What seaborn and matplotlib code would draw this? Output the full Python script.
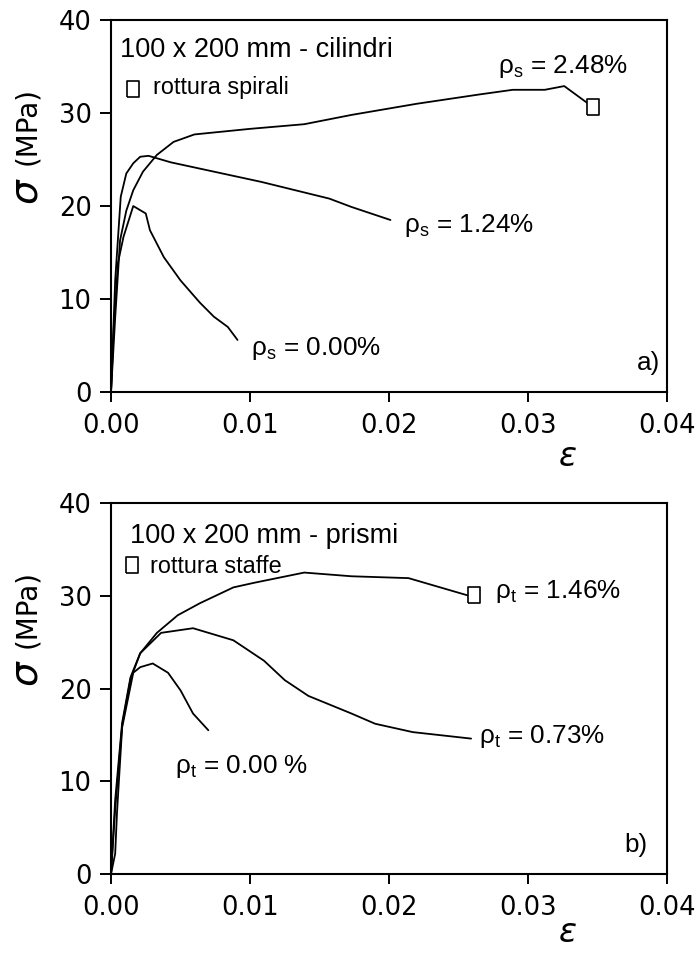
import numpy as np
import matplotlib
matplotlib.use('Agg')
import matplotlib.pyplot as plt
import pandas as pd
import seaborn as sns

# panel a) cylinders 100 x 200 mm, spiral ratio rho_s
eps_s248 = [0, 0.0003, 0.00065, 0.0011, 0.0016, 0.0023, 0.0033, 0.0045, 0.0060, 0.0100, 0.0139, 0.0173, 0.0220, 0.0265, 0.0289, 0.0312, 0.0326, 0.0347]
sig_s248 = [0, 8.0, 16.3, 19.5, 21.7, 23.7, 25.5, 26.9, 27.7, 28.3, 28.8, 29.8, 31.0, 32.0, 32.5, 32.5, 32.9, 30.6]
eps_s124 = [0, 0.0003, 0.0007, 0.0011, 0.0016, 0.0021, 0.0027, 0.0043, 0.0108, 0.0157, 0.0173, 0.0201]
sig_s124 = [0, 12.0, 21.0, 23.5, 24.6, 25.3, 25.4, 24.7, 22.6, 20.8, 19.9, 18.5]
eps_s000 = [0, 0.0002, 0.0005, 0.0009, 0.0016, 0.0025, 0.0028, 0.0038, 0.0050, 0.0064, 0.0074, 0.0084, 0.0091]
sig_s000 = [0, 7.0, 13.9, 16.7, 20.0, 19.2, 17.4, 14.5, 12.0, 9.6, 8.1, 7.0, 5.6]

# panel b) prisms 100 x 200 mm, stirrup ratio rho_t
eps_t146 = [0, 0.0003, 0.0008, 0.0014, 0.0021, 0.0033, 0.0048, 0.0064, 0.0088, 0.0103, 0.0139, 0.0173, 0.0214, 0.0262]
sig_t146 = [0, 8.0, 16.3, 21.2, 23.8, 26.0, 27.9, 29.2, 30.9, 31.4, 32.5, 32.1, 31.9, 29.8]
eps_t073 = [0, 0.0003, 0.0008, 0.0014, 0.0021, 0.0036, 0.0059, 0.0088, 0.0110, 0.0125, 0.0142, 0.0173, 0.0190, 0.0217, 0.0259]
sig_t073 = [0, 7.0, 16.0, 21.0, 23.8, 26.0, 26.5, 25.2, 23.0, 20.9, 19.2, 17.3, 16.2, 15.3, 14.6]
eps_t000 = [0, 0.0003, 0.00043, 0.0008, 0.0016, 0.0021, 0.0030, 0.0041, 0.0050, 0.0059, 0.0070]
sig_t000 = [0, 2.2, 6.6, 15.8, 21.7, 22.3, 22.7, 21.7, 19.8, 17.3, 15.5]

# failure points (rottura)
fail_a = (0.0347, 30.6)
fail_b = (0.0261, 30.1)

x_ticks = [0.00, 0.01, 0.02, 0.03, 0.04]
x_ticklabels = ['0.00', '0.01', '0.02', '0.03', '0.04']
y_ticks = [0, 10, 20, 30, 40]

sns.set_style('ticks')
plt.rcParams['font.family'] = ['Liberation Sans', 'DejaVu Sans']
plt.rcParams['mathtext.fontset'] = 'dejavusans'
for k in ['text.color', 'axes.labelcolor', 'xtick.color', 'ytick.color', 'axes.edgecolor']:
    plt.rcParams[k] = 'black'

fig = plt.figure(figsize=(6.96, 9.55), dpi=100)
ax_a = fig.add_axes([0.1595, 0.5895, 0.799, 0.3895])
ax_b = fig.add_axes([0.1595, 0.0848, 0.799, 0.3885])

rect = [(-0.75, -1), (0.75, -1), (0.75, 1), (-0.75, 1), (-0.75, -1)]

def draw_curve(ax, eps, sig):
    df = pd.DataFrame({'eps': eps, 'sig': sig})
    sns.lineplot(data=df, x='eps', y='sig', sort=False, color='black', lw=1.3, ax=ax, estimator=None)

def mark(ax, x, y):
    ax.plot([x], [y], marker=rect, ms=12, mfc='white', mec='black', mew=1.2, ls='none', zorder=5)

def style(ax, eps_y):
    ax.set_xlim(0, 0.04)
    ax.set_ylim(0, 40)
    ax.set_xticks(x_ticks)
    ax.set_xticklabels(x_ticklabels, family='DejaVu Sans', fontsize=18.5)
    ax.set_yticks(y_ticks)
    ax.set_yticklabels([str(v) for v in y_ticks], family='DejaVu Sans', fontsize=18.5)
    ax.tick_params(axis='y', direction='out', length=8, width=1.4, pad=6)
    ax.tick_params(axis='x', direction='out', length=7, width=1.4, pad=8)
    for sp in ax.spines.values():
        sp.set_visible(True)
        sp.set_linewidth(1.5)
        sp.set_color('black')
    ax.set_xlabel('')
    ax.set_ylabel('')
    ax.text(-0.151, 0.54, r'$\sigma$', transform=ax.transAxes, rotation=90,
            fontsize=28, ha='center', va='center')
    ax.text(-0.151, 0.715, '(MPa)', transform=ax.transAxes, rotation=90,
            family='DejaVu Sans', fontsize=20, ha='center', va='center')
    ax.text(0.82, eps_y, r'$\varepsilon$', transform=ax.transAxes,
            fontsize=24, ha='center', va='center')

# panel a
draw_curve(ax_a, eps_s248, sig_s248)
draw_curve(ax_a, eps_s124, sig_s124)
draw_curve(ax_a, eps_s000, sig_s000)
mark(ax_a, *fail_a)
mark(ax_a, 0.0016, 32.6)
style(ax_a, -0.177)
ax_a.text(0.00065, 36.0, '100 x 200 mm - cilindri', fontsize=19.5)
ax_a.text(0.0030, 32.0, 'rottura spirali', fontsize=16.8)
ax_a.text(0.0278, 34.3, r'ρ$_\mathregular{s}$ = 2.48%', fontsize=18.8)
ax_a.text(0.0211, 17.2, r'ρ$_\mathregular{s}$ = 1.24%', fontsize=18.8)
ax_a.text(0.0101, 4.0, r'ρ$_\mathregular{s}$ = 0.00%', fontsize=18.8)
ax_a.text(0.0378, 2.4, 'a)', fontsize=18.8)

# panel b
draw_curve(ax_b, eps_t146, sig_t146)
draw_curve(ax_b, eps_t073, sig_t073)
draw_curve(ax_b, eps_t000, sig_t000)
mark(ax_b, *fail_b)
mark(ax_b, 0.0015, 33.3)
style(ax_b, -0.160)
ax_b.text(0.0014, 35.7, '100 x 200 mm - prismi', fontsize=19.5)
ax_b.text(0.0028, 32.5, 'rottura staffe', fontsize=16.8)
ax_b.text(0.0276, 29.8, r'ρ$_\mathregular{t}$ = 1.46%', fontsize=18.8)
ax_b.text(0.0265, 14.1, r'ρ$_\mathregular{t}$ = 0.73%', fontsize=18.8)
ax_b.text(0.0046, 10.9, r'ρ$_\mathregular{t}$ = 0.00 %', fontsize=18.8)
ax_b.text(0.0369, 2.4, 'b)', fontsize=18.8)

fig.savefig('out.png', dpi=100)
